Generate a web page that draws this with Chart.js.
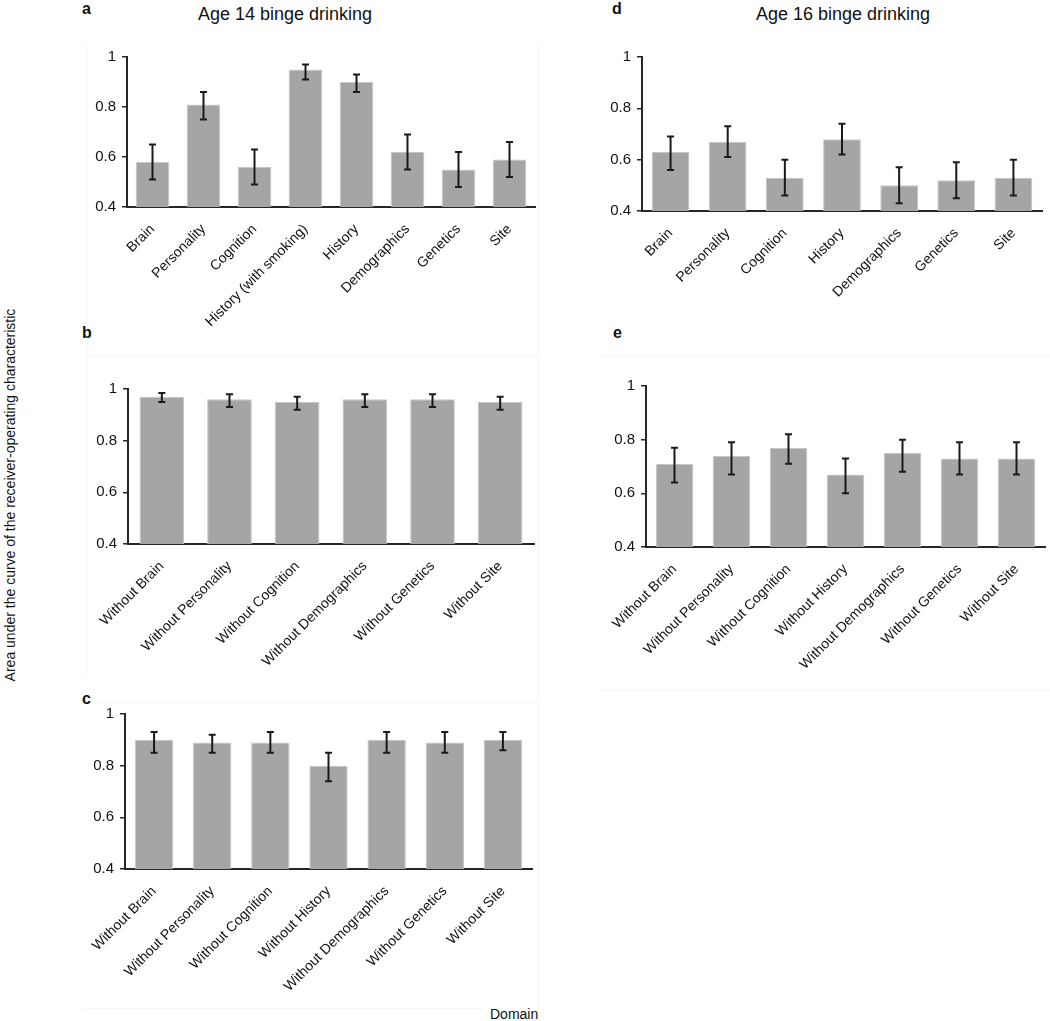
<!DOCTYPE html>
<html>
<head>
<meta charset="utf-8">
<script src="https://cdn.jsdelivr.net/npm/chart.js@4"></script>
<style>
  body { margin: 0; background: #fff; font-family: "Liberation Sans", Arial, sans-serif; }
  #page { position: relative; width: 1050px; height: 1021px; overflow: hidden; }
  .panel { position: absolute; }
  .frame { position: absolute; background: #f7f7f7; }
  .lbl { position: absolute; font-weight: bold; font-size: 16px; color: #111; }
  .ttl { position: absolute; font-size: 18px; color: #111; white-space: nowrap; transform: translateX(-50%); }
  #ytitle { position: absolute; left: 10px; top: 496px; width: 520px; margin-left: -260px; margin-top: -9px;
    text-align: center; font-size: 14px; color: #111; transform: rotate(-90deg); white-space: nowrap; }
  #xtitle { position: absolute; left: 490px; top: 1006px; font-size: 14px; color: #111; }
</style>
</head>
<body>
<div id="page">
  <!-- faint chart frames -->
  <div class="frame" style="left:87px;top:43px;width:1px;height:634px"></div>
  <div class="frame" style="left:538px;top:43px;width:1px;height:965px"></div>
  <div class="frame" style="left:87px;top:355px;width:451px;height:1px"></div>
  <div class="frame" style="left:598px;top:355px;width:452px;height:1px"></div>
  <div class="frame" style="left:600px;top:690px;width:450px;height:1px"></div>
  <div class="frame" style="left:83px;top:702px;width:455px;height:1px"></div>
  <div class="frame" style="left:83px;top:1008px;width:400px;height:1px"></div>

  <div class="lbl" style="left:82px;top:0px">a</div>
  <div class="ttl" style="left:285px;top:4px">Age 14 binge drinking</div>
  <div class="lbl" style="left:612px;top:0px">d</div>
  <div class="ttl" style="left:843px;top:4px">Age 16 binge drinking</div>
  <div class="lbl" style="left:82px;top:324px">b</div>
  <div class="lbl" style="left:613px;top:324px">e</div>
  <div class="lbl" style="left:82px;top:690px">c</div>
  <div id="ytitle">Area under the curve of the receiver-operating characteristic</div>
  <div id="xtitle">Domain</div>
</div>
<script>
// y axis ticks shared by all panels
const yTicks = [0.4, 0.6, 0.8, 1];

// a: age 14, single domains
const age14Labels = ['Brain', 'Personality', 'Cognition', 'History (with smoking)', 'History', 'Demographics', 'Genetics', 'Site'];
const age14Auc  = [0.58, 0.81, 0.56, 0.95, 0.90, 0.62, 0.55, 0.59];
const age14Low  = [0.51, 0.75, 0.49, 0.91, 0.86, 0.55, 0.48, 0.52];
const age14High = [0.65, 0.86, 0.63, 0.97, 0.93, 0.69, 0.62, 0.66];

// b: age 14, leave one out (with smoking)
const age14WithoutLabels = ['Without Brain', 'Without Personality', 'Without Cognition', 'Without Demographics', 'Without Genetics', 'Without Site'];
const age14WithoutAuc  = [0.97, 0.96, 0.95, 0.96, 0.96, 0.95];
const age14WithoutLow  = [0.95, 0.93, 0.92, 0.93, 0.93, 0.92];
const age14WithoutHigh = [0.985, 0.98, 0.97, 0.98, 0.98, 0.97];

// c: age 14, leave one out
const withoutLabels = ['Without Brain', 'Without Personality', 'Without Cognition', 'Without History', 'Without Demographics', 'Without Genetics', 'Without Site'];
const age14NoSmokeAuc  = [0.90, 0.89, 0.89, 0.80, 0.90, 0.89, 0.90];
const age14NoSmokeLow  = [0.85, 0.85, 0.85, 0.74, 0.85, 0.85, 0.86];
const age14NoSmokeHigh = [0.93, 0.92, 0.93, 0.85, 0.93, 0.93, 0.93];

// d: age 16, single domains
const age16Labels = ['Brain', 'Personality', 'Cognition', 'History', 'Demographics', 'Genetics', 'Site'];
const age16Auc  = [0.63, 0.67, 0.53, 0.68, 0.50, 0.52, 0.53];
const age16Low  = [0.56, 0.61, 0.46, 0.62, 0.43, 0.45, 0.46];
const age16High = [0.69, 0.73, 0.60, 0.74, 0.57, 0.59, 0.60];

// e: age 16, leave one out
const age16WithoutAuc  = [0.71, 0.74, 0.77, 0.67, 0.75, 0.73, 0.73];
const age16WithoutLow  = [0.64, 0.67, 0.71, 0.60, 0.68, 0.67, 0.67];
const age16WithoutHigh = [0.77, 0.79, 0.82, 0.73, 0.80, 0.79, 0.79];

const FONT = '"Liberation Sans", Arial, sans-serif';
const AXIS_W = 50, TOP_PAD = 10, RIGHT_PAD = 5;

const errorBars = {
  id: 'errorBars',
  afterDatasetsDraw(chart, args, opts) {
    const ctx = chart.ctx;
    const y = chart.scales.y;
    const meta = chart.getDatasetMeta(0);
    ctx.save();
    ctx.strokeStyle = '#1a1a1a';
    ctx.lineWidth = 2;
    meta.data.forEach((bar, i) => {
      const lo = y.getPixelForValue(opts.low[i]);
      const hi = y.getPixelForValue(opts.high[i]);
      ctx.beginPath();
      ctx.moveTo(bar.x, lo); ctx.lineTo(bar.x, hi);
      ctx.moveTo(bar.x - 3.5, lo); ctx.lineTo(bar.x + 3.5, lo);
      ctx.moveTo(bar.x - 3.5, hi); ctx.lineTo(bar.x + 3.5, hi);
      ctx.stroke();
    });
    ctx.restore();
  }
};

function makePanel(box, labels, values, low, high, xh) {
  const div = document.createElement('div');
  div.className = 'panel';
  const w = box.r - box.l + AXIS_W + RIGHT_PAD;
  const h = box.b - box.t + TOP_PAD + xh;
  div.style.left = (box.l - AXIS_W) + 'px';
  div.style.top = (box.t - TOP_PAD) + 'px';
  div.style.width = w + 'px';
  div.style.height = h + 'px';
  const canvas = document.createElement('canvas');
  div.appendChild(canvas);
  document.getElementById('page').appendChild(div);

  new Chart(canvas, {
    type: 'bar',
    data: {
      labels,
      datasets: [{ data: values, backgroundColor: '#a5a5a5', borderColor: '#c6c6c6', borderWidth: 1,
        categoryPercentage: 1, barPercentage: 0.66 }]
    },
    options: {
      responsive: true,
      maintainAspectRatio: false,
      animation: false,
      devicePixelRatio: 1,
      layout: { padding: { top: TOP_PAD, right: RIGHT_PAD, left: 0, bottom: 0 } },
      plugins: {
        legend: { display: false },
        tooltip: { enabled: false },
        errorBars: { low, high }
      },
      scales: {
        x: {
          grid: { display: false },
          border: { display: true, color: '#262626', width: 2 },
          ticks: { color: '#111', font: { family: FONT, size: 14 }, maxRotation: 45, minRotation: 45, padding: 6, autoSkip: false },
          afterFit(s) { s.height = xh; }
        },
        y: {
          min: 0.4, max: 1,
          afterBuildTicks(s) { s.ticks = yTicks.map(v => ({ value: v })); },
          grid: { display: true, drawOnChartArea: false, drawTicks: true, tickLength: 5, color: '#262626', lineWidth: 1.5 },
          border: { display: true, color: '#262626', width: 2 },
          ticks: { color: '#111', font: { family: FONT, size: 15 }, padding: 6,
            callback: v => String(Number(v.toFixed(1))) },
          afterFit(s) { s.width = AXIS_W; }
        }
      }
    },
    plugins: [errorBars]
  });
}

makePanel({ l: 127, r: 535, t: 52, b: 207 }, age14Labels, age14Auc, age14Low, age14High, 130);
makePanel({ l: 128, r: 534, t: 384, b: 544 }, age14WithoutLabels, age14WithoutAuc, age14WithoutLow, age14WithoutHigh, 130);
makePanel({ l: 125, r: 532, t: 709, b: 869 }, withoutLabels, age14NoSmokeAuc, age14NoSmokeLow, age14NoSmokeHigh, 130);
makePanel({ l: 642, r: 1042, t: 52, b: 211 }, age16Labels, age16Auc, age16Low, age16High, 130);
makePanel({ l: 646, r: 1045, t: 381, b: 547 }, withoutLabels, age16WithoutAuc, age16WithoutLow, age16WithoutHigh, 130);
</script>
</body>
</html>
